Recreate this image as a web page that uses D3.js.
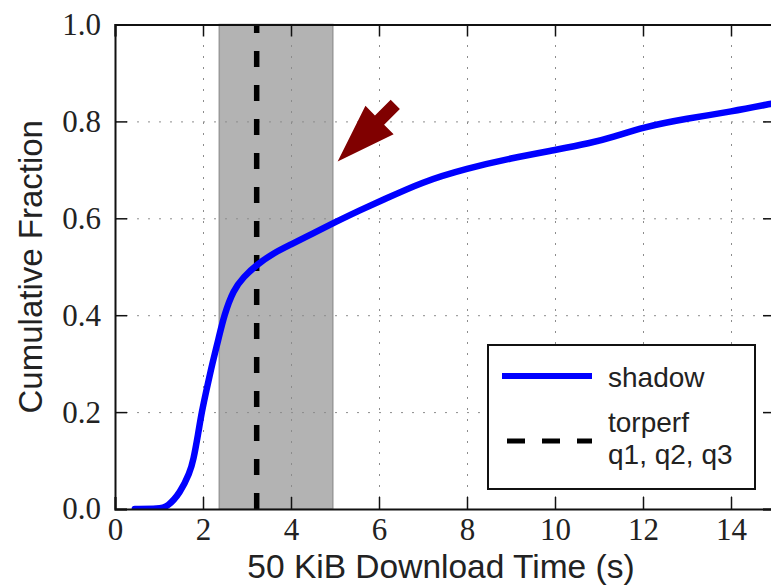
<!DOCTYPE html>
<html>
<head>
<meta charset="utf-8">
<script src="https://cdn.jsdelivr.net/npm/d3@7"></script>
<style>
  body { margin: 0; background: #fff; }
  svg { display: block; }
</style>
</head>
<body>
<div id="chart"></div>
<script>
// cdf of the shadow download times
var shadow_x = [0.45, 1.0, 1.2, 1.48, 1.7, 1.78, 1.89, 1.97, 2.09, 2.21, 2.35, 2.48, 2.69, 2.92,
    3.22, 3.6, 3.98, 4.5, 4.96, 5.5, 6.0, 7.0, 8.0, 9.0, 10.0, 10.8, 11.33, 12.0, 13.0, 14.0, 15.0, 15.3]
var shadow_y = [0, 0, 0.005, 0.033, 0.075, 0.1, 0.155, 0.2, 0.25, 0.3, 0.35, 0.4, 0.452, 0.479,
    0.504, 0.528, 0.545, 0.569, 0.59, 0.614, 0.634, 0.676, 0.703, 0.724, 0.741, 0.755, 0.768, 0.788, 0.806, 0.82, 0.838, 0.843]

// torperf quartiles: band q1..q3, dashed line at q2
var torperf_q = [2.37, 3.22, 4.95]

var x_ticks = [0, 2, 4, 6, 8, 10, 12, 14]
var y_ticks = [0.0, 0.2, 0.4, 0.6, 0.8, 1.0]

// arrow annotation (tip, tail) in data units
var arrow_tip = [5.06, 0.717]
var arrow_tail = [6.37, 0.835]

var width = 771
var height = 587
var margin = {left: 115, right: -4, top: 24.5, bottom: 78}

var svg = d3.select("#chart")
    .append("svg")
    .attr("width", width)
    .attr("height", height)

var x = d3.scaleLinear().domain([0, 15]).range([margin.left, width - margin.right])
var y = d3.scaleLinear().domain([0, 1]).range([height - margin.bottom, margin.top])

var serif = "'Liberation Serif', 'Times New Roman', serif"
var sans = "'Liberation Sans', Arial, Helvetica, sans-serif"

svg.append("clipPath").attr("id", "plotclip")
    .append("rect")
    .attr("x", x(0)).attr("y", y(1))
    .attr("width", x(15) - x(0)).attr("height", y(0) - y(1))

// shaded inter-quartile band
svg.append("rect")
    .attr("x", x(torperf_q[0]))
    .attr("y", y(1))
    .attr("width", x(torperf_q[2]) - x(torperf_q[0]))
    .attr("height", y(0) - y(1))
    .attr("fill", "#b3b3b3")
    .attr("stroke", "#999")
    .attr("stroke-width", 1.5)

/*-------------------------------- grid ------------------------------*/
svg.append("g")
    .attr("class", "grid")
    .attr("transform", "translate(0," + y(0) + ")")
    .call(d3.axisBottom(x).tickValues(x_ticks.slice(1)).tickSize(-(y(0) - y(1))).tickFormat(""))
svg.append("g")
    .attr("class", "grid")
    .attr("transform", "translate(" + x(0) + ",0)")
    .call(d3.axisLeft(y).tickValues(y_ticks.slice(1, -1)).tickSize(-(x(15) - x(0))).tickFormat(""))
svg.selectAll(".grid .domain").remove()
svg.selectAll(".grid line")
    .attr("stroke", "#8c8c8c")
    .attr("stroke-width", 1)
    .attr("stroke-dasharray", "2,9")

// median line
svg.append("line")
    .attr("x1", x(torperf_q[1])).attr("x2", x(torperf_q[1]))
    .attr("y1", y(0)).attr("y2", y(1))
    .attr("stroke", "#000")
    .attr("stroke-width", 5.5)
    .attr("stroke-dasharray", "16,18")

// the shadow cdf
var line = d3.line()
    .x(function(d, i) { return x(shadow_x[i]) })
    .y(function(d) { return y(d) })
    .curve(d3.curveBasis)

svg.append("path")
    .datum(shadow_y)
    .attr("clip-path", "url(#plotclip)")
    .attr("fill", "none")
    .attr("stroke", "#0000ff")
    .attr("stroke-width", 6.5)
    .attr("stroke-linejoin", "round")
    .attr("stroke-linecap", "round")
    .attr("d", line)

/*-------------------------------- axes ------------------------------*/
var tick_len = 12
var bottom = svg.append("g")
    .attr("transform", "translate(0," + y(0) + ")")
    .call(d3.axisBottom(x).tickValues(x_ticks).tickSize(-tick_len).tickPadding(9).tickFormat(d3.format("d")))
var top_ax = svg.append("g")
    .attr("transform", "translate(0," + y(1) + ")")
    .call(d3.axisTop(x).tickValues(x_ticks).tickSize(-tick_len).tickFormat(""))
var left = svg.append("g")
    .attr("transform", "translate(" + x(0) + ",0)")
    .call(d3.axisLeft(y).tickValues(y_ticks).tickSize(-tick_len).tickPadding(14).tickFormat(d3.format(".1f")))
var right = svg.append("g")
    .attr("transform", "translate(" + x(15) + ",0)")
    .call(d3.axisRight(y).tickValues(y_ticks).tickSize(-tick_len).tickFormat(""))

;[bottom, top_ax, left, right].forEach(function(g) {
    g.select(".domain").attr("stroke", "#111").attr("stroke-width", 2)
    g.selectAll(".tick line").attr("stroke", "#111").attr("stroke-width", 1.5)
    g.selectAll("text")
        .attr("fill", "#222")
        .style("font-family", serif)
        .style("font-size", "31px")
})

// axis labels
svg.append("text")
    .attr("x", (x(0) + x(15)) / 2 - 4)
    .attr("y", 578)
    .attr("text-anchor", "middle")
    .style("font-family", sans)
    .style("font-size", "33.5px")
    .attr("fill", "#222")
    .text("50 KiB Download Time (s)")

svg.append("text")
    .attr("transform", "translate(42," + (y(0) + y(1)) / 2 + ") rotate(-90)")
    .attr("text-anchor", "middle")
    .style("font-family", sans)
    .style("font-size", "33px")
    .attr("fill", "#222")
    .text("Cumulative Fraction")

/*-------------------------------- arrow ------------------------------*/
var tip = [x(arrow_tip[0]), y(arrow_tip[1])]
var tail = [x(arrow_tail[0]), y(arrow_tail[1])]
var dx = tail[0] - tip[0], dy = tail[1] - tip[1]
var len = Math.sqrt(dx * dx + dy * dy)
var ux = dx / len, uy = dy / len   // along, towards tail
var px = -uy, py = ux              // perpendicular
var head_len = 59, head_half = 20, shaft_half = 6.5
function pt(a, b) { return [tip[0] + ux * a + px * b, tip[1] + uy * a + py * b] }
var arrow_pts = [
    pt(0, 0), pt(head_len, head_half), pt(head_len, shaft_half), pt(len, shaft_half),
    pt(len, -shaft_half), pt(head_len, -shaft_half), pt(head_len, -head_half)
]
svg.append("polygon")
    .attr("points", arrow_pts.map(function(p) { return p.join(",") }).join(" "))
    .attr("fill", "#800000")

/*-------------------------------- legend ------------------------------*/
var legend = svg.append("g")
legend.append("rect")
    .attr("x", 488).attr("y", 345)
    .attr("width", 267).attr("height", 144)
    .attr("fill", "#fff")
    .attr("stroke", "#111")
    .attr("stroke-width", 2)
legend.append("line")
    .attr("x1", 502).attr("x2", 592).attr("y1", 376).attr("y2", 376)
    .attr("stroke", "#0000ff").attr("stroke-width", 6)
legend.append("line")
    .attr("x1", 507).attr("x2", 592).attr("y1", 441).attr("y2", 441)
    .attr("stroke", "#000").attr("stroke-width", 5)
    .attr("stroke-dasharray", "18,17")
var legend_text = [["shadow", 387], ["torperf", 432], ["q1, q2, q3", 464]]
legend.selectAll(".ltext")
    .data(legend_text)
    .enter().append("text")
    .attr("x", 608)
    .attr("y", function(d) { return d[1] })
    .style("font-family", sans)
    .style("font-size", "28px")
    .attr("fill", "#222")
    .text(function(d) { return d[0] })
</script>
</body>
</html>
